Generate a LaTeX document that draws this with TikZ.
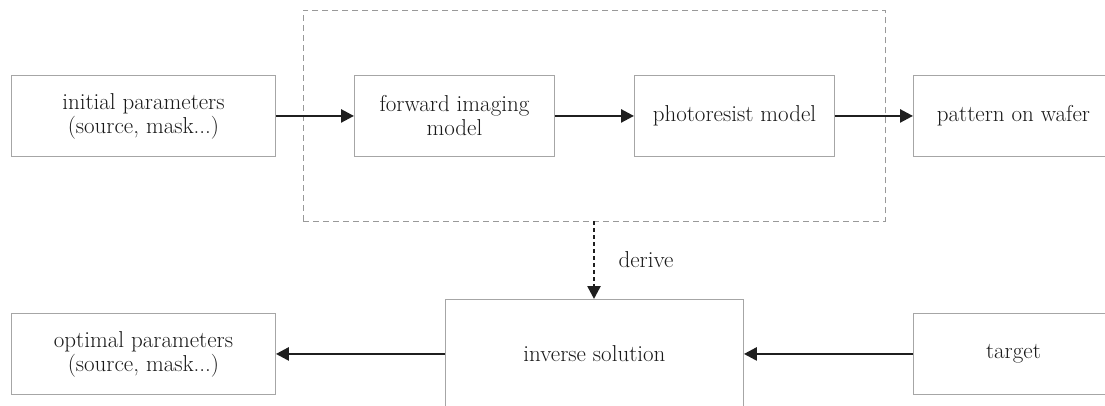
\documentclass[tikz,border=0pt]{standalone}
\usetikzlibrary{arrows.meta}
\begin{document}
\begin{tikzpicture}[x=1pt,y=-1pt,
  txt/.style={font=\fontsize{23}{24}\selectfont,text=black!90},
  box/.style={txt,draw=black!35,line width=0.9pt,fill=white,inner sep=0pt,align=center},
  flow/.style={draw=black!88,line width=2.6pt,-{Triangle[length=13pt,width=13pt]}},
  dflow/.style={flow,dash pattern=on 4pt off 3pt},
  group/.style={draw=black!40,line width=0.8pt,dash pattern=on 6pt off 4pt}]
\useasboundingbox (0,0) rectangle (1105,406);
\clip (0,0) rectangle (1105,406);
\node[group,minimum width=582pt,minimum height=211pt,anchor=north west] (grp) at (303,10) {};
\node[box,minimum width=264pt,minimum height=81pt,anchor=north west] (init) at (11,75) {initial parameters\\(source, mask...)};
\node[box,minimum width=200pt,minimum height=81pt,anchor=north west] (fwd) at (354,75) {forward imaging\\model};
\node[box,minimum width=200pt,minimum height=81pt,anchor=north west] (resist) at (634,75) {photoresist model};
\node[box,minimum width=200pt,minimum height=81pt,anchor=north west] (wafer) at (913,75) {pattern on wafer};
\node[box,minimum width=264pt,minimum height=81pt,anchor=north west] (opt) at (11,313) {optimal parameters\\(source, mask...)};
\node[box,minimum width=298pt,minimum height=108pt,anchor=north west] (inv) at (445,299) {inverse solution};
\node[box,minimum width=200pt,minimum height=81pt,anchor=north west] (tgt) at (913,313) {target};
\coordinate (dtop) at (594,221);
\draw[flow] (init.east) -- (fwd.west);
\draw[flow] (fwd.east) -- (resist.west);
\draw[flow] (resist.east) -- (wafer.west);
\draw[dflow] (dtop) -- node[txt,right=20pt] (lbl) {derive} (dtop |- inv.north);
\draw[flow] (tgt.west) -- (inv.east |- tgt.west);
\draw[flow] (inv.west |- opt.east) -- (opt.east);
\end{tikzpicture}
\end{document}
